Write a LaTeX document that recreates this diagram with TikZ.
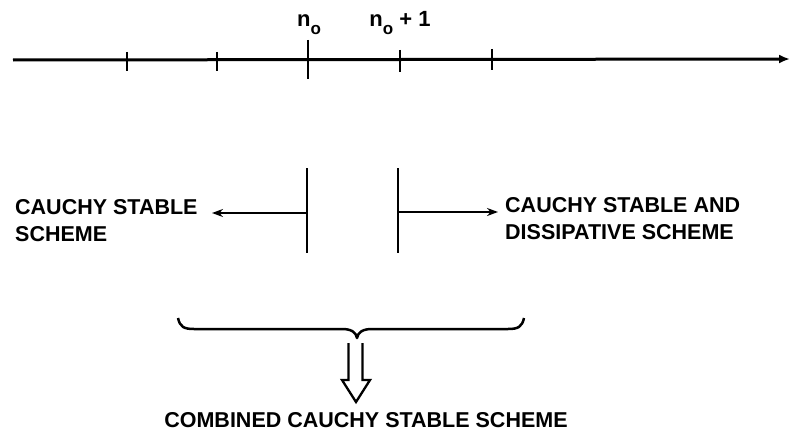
\documentclass[tikz,border=0pt]{standalone}
\usepackage{fontspec}
\setmainfont{Liberation Sans}
\usetikzlibrary{arrows.meta}
\newcommand{\mysub}[1]{\raisebox{-0.32em}{\fontsize{17}{17}\selectfont #1}}
\begin{document}
\begin{tikzpicture}[x=1pt,y=-1pt,
  lbl/.style={inner sep=0pt,font=\bfseries\fontsize{21.5}{27}\selectfont},
  tlbl/.style={inner sep=0pt,font=\bfseries\fontsize{22}{26}\selectfont},
  axisline/.style={line width=3pt,-{Latex[length=11pt,width=9pt]}},
  tickmark/.style={line width=2.5pt},
  bar/.style={line width=2.5pt},
  sidearrow/.style={line width=2.8pt,-{Stealth[length=11pt,width=8pt]}},
  bracepath/.style={line width=2.5pt,line join=round},
  hollow/.style={line width=2.3pt,line join=miter}]
\useasboundingbox (0,0) rectangle (791,436);
% axis
\coordinate (a0) at (13,60);
\coordinate (a1) at (790,59);
\draw[axisline] (a0) -- (a1);
% ticks
\foreach \n/\x/\t/\b in {t1/127/52/71, t2/217/52/71, t4/400/50/72, t5/492/49/70}{
  \coordinate (\n top) at (\x,\t);
  \coordinate (\n bot) at (\x,\b);
  \draw[tickmark] (\n top) -- (\n bot);
}
\coordinate (t3top) at (308,40);
\coordinate (t3bot) at (308,79);
\draw[tickmark] (t3top) -- (t3bot);
% tick labels
\node[tlbl,anchor=base] (no) at (309,27) {n\mysub{o}};
\node[tlbl,anchor=base] (no1) at (400,27) {n\mysub{o} + 1};
% middle bars
\coordinate (L1) at (307,168);
\coordinate (L2) at (307,253);
\coordinate (R1) at (398,168);
\coordinate (R2) at (398,253);
\draw[bar] (L1) -- (L2);
\draw[bar] (R1) -- (R2);
\coordinate (Lmid) at (307,213);
\coordinate (Rmid) at (398,212);
% texts
\node[lbl,anchor=north west,align=left] (left) at (15,199) {CAUCHY STABLE\\SCHEME};
\node[lbl,anchor=north west,align=left] (right) at (505,197) {CAUCHY STABLE AND\\DISSIPATIVE SCHEME};
\coordinate (Ltip) at (212,213);
\coordinate (Rtip) at (498,212);
\draw[sidearrow] (Lmid) -- (Ltip);
\draw[sidearrow] (Rmid) -- (Rtip);
% brace
\coordinate (bl) at (178,318);
\coordinate (bm) at (357,338);
\coordinate (br) at (524,318);
\draw[bracepath] (bl) .. controls (180,327) and (184,329) .. (194,329)
  -- (342,329) .. controls (351,329) and (356,332) .. (bm)
  .. controls (358,332) and (363,329) .. (372,329)
  -- (508,329) .. controls (518,329) and (522,327) .. (br);
% hollow arrow
\coordinate (h1) at (348.5,343);
\coordinate (h2) at (362.5,343);
\coordinate (htip) at (356,402);
\draw[hollow] (h1) -- (348.5,380) -- (342,380) -- (htip) -- (370,380) -- (362.5,380) -- (h2);
% bottom text
\node[lbl,anchor=base] (combined) at (366,427) {COMBINED CAUCHY STABLE SCHEME};
\end{tikzpicture}
\end{document}
